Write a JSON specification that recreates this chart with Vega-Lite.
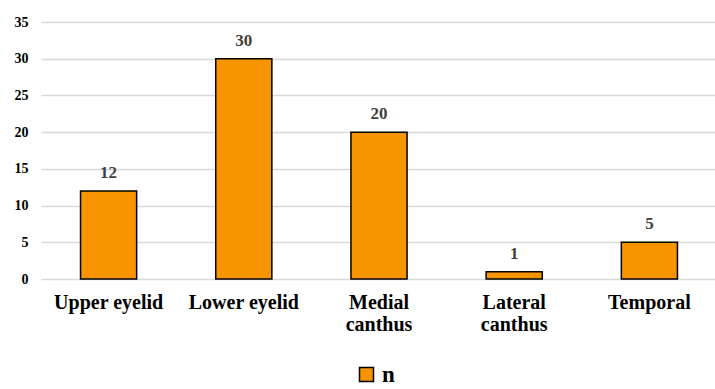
{
  "$schema": "https://vega.github.io/schema/vega-lite/v6.json",
  "autosize": "none",
  "width": 676,
  "height": 257,
  "padding": {"left": 41, "top": 22, "right": 0, "bottom": 110},
  "background": "white",
  "config": {"view": {"stroke": null}, "font": "Liberation Serif"},
  "data": {"values": [
    {"location": "Upper eyelid", "n": 12},
    {"location": "Lower eyelid", "n": 30},
    {"location": "Medial canthus", "n": 20},
    {"location": "Lateral canthus", "n": 1},
    {"location": "Temporal", "n": 5}
  ]},
  "encoding": {
    "x": {"field": "location", "type": "nominal", "sort": null,
      "scale": {"paddingInner": 0.585, "paddingOuter": 0.2925},
      "axis": {"title": null, "domain": false, "ticks": false, "labelAngle": 0,
        "labelFont": "Liberation Serif", "labelFontSize": 20, "labelFontWeight": "bold",
        "labelColor": "#000000", "labelPadding": 13, "labelLineHeight": 22,
        "labelExpr": "datum.value == 'Medial canthus' ? ['Medial','canthus'] : datum.value == 'Lateral canthus' ? ['Lateral','canthus'] : datum.value"}},
    "y": {"field": "n", "type": "quantitative",
      "scale": {"domain": [0, 35], "nice": false},
      "axis": {"title": null, "domain": false, "ticks": false, "values": [0,5,10,15,20,25,30,35],
        "gridColor": "#d9d9d9", "gridWidth": 1.3, "labelPadding": 13,
        "labelFont": "Liberation Serif", "labelFontSize": 14, "labelFontWeight": "bold", "labelColor": "#000000"}}
  },
  "layer": [
    {"mark": {"type": "bar", "stroke": "#000000", "strokeWidth": 1.5},
     "encoding": {
       "color": {"datum": "n", "type": "nominal",
         "scale": {"range": ["#F79400"]},
         "legend": {"title": null, "orient": "none", "legendX": 314, "legendY": 341,
           "symbolType": "square", "symbolSize": 196, "symbolStrokeColor": "#000000",
           "symbolStrokeWidth": 1.5, "symbolFillColor": "#F79400",
           "labelFont": "Liberation Serif", "labelFontSize": 23, "labelFontWeight": "bold", "labelColor": "#000000", "labelOffset": 4}}
     }},
    {"mark": {"type": "text", "baseline": "bottom", "dy": -9, "font": "Liberation Serif", "fontSize": 17, "fontWeight": "bold", "color": "#404040"},
     "encoding": {"text": {"field": "n", "type": "quantitative"}}}
  ]
}
